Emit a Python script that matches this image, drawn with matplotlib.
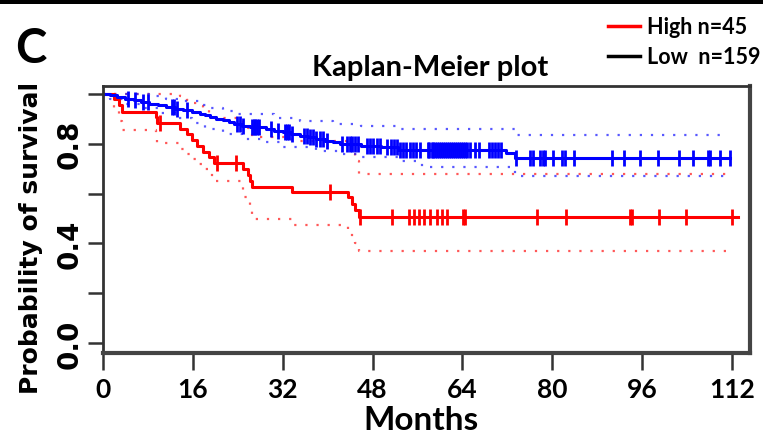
import numpy as np
import matplotlib
matplotlib.use("Agg")
import matplotlib.pyplot as plt
from matplotlib import font_manager

# Kaplan-Meier curves (months, survival probability)
red_t = [0, 2.0, 2.8, 3.4, 9.4, 9.7, 13.7, 14.9, 15.8, 16.7, 17.8, 18.8, 19.8,
         25.0, 25.8, 26.2, 26.5, 33.6, 43.7, 44.3, 44.9, 45.5]
red_s = [1.0, 0.978, 0.955, 0.928, 0.906, 0.884, 0.861, 0.838, 0.815, 0.792, 0.769, 0.746, 0.723,
         0.699, 0.676, 0.652, 0.627, 0.607, 0.585, 0.560, 0.533, 0.505]
red_end = 113.0
red_cens = [10.2, 20.3, 23.7, 40.4, 45.8, 51.4, 54.4, 55.3, 56.2, 57.1, 58.3, 59.5, 60.4,
            61.3, 64.1, 64.4, 77.3, 82.4, 93.9, 94.2, 99.0, 103.8, 112.0]
red_up_t = [0, 13.7, 14.9, 15.8, 16.7, 17.8, 18.8, 19.8, 25.0, 25.8, 26.2, 26.5, 33.6,
            43.7, 44.3, 44.9, 45.5]
red_up_s = [1.0, 0.99, 0.975, 0.965, 0.95, 0.935, 0.92, 0.905, 0.885, 0.865, 0.845, 0.826, 0.81,
            0.79, 0.76, 0.73, 0.679]
red_lo_t = [0, 2.0, 2.8, 3.4, 9.4, 9.7, 13.7, 14.9, 15.8, 16.7, 17.8, 18.8, 19.8,
            25.0, 25.8, 26.2, 26.5, 33.6, 43.7, 44.3, 44.9, 45.5]
red_lo_s = [1.0, 0.935, 0.89, 0.857, 0.83, 0.805, 0.78, 0.76, 0.74, 0.72, 0.70, 0.675, 0.65,
            0.585, 0.566, 0.531, 0.498, 0.475, 0.45, 0.424, 0.40, 0.371]

blue_t = [0, 1.2, 2.5, 4.0, 5.5, 6.8, 8.2, 9.8, 11.3, 12.8, 14.3, 15.8, 17.3, 18.2, 19.0,
          20.2, 21.4, 22.4, 23.3, 24.8, 26.2, 29.0, 30.5, 32.0, 33.5, 35.0, 36.5, 38.0,
          39.5, 41.0, 42.2, 46.0, 49.5, 52.5, 71.8, 73.3]
blue_s = [1.0, 0.994, 0.987, 0.981, 0.975, 0.968, 0.961, 0.955, 0.948, 0.941, 0.934, 0.928,
          0.921, 0.914, 0.908, 0.901, 0.894, 0.887, 0.880, 0.873, 0.866, 0.859, 0.852, 0.846,
          0.839, 0.833, 0.826, 0.819, 0.813, 0.806, 0.800, 0.793, 0.786, 0.777, 0.765, 0.743]
blue_end = 111.7
blue_cens = [4.5, 5.7, 7.1, 8.0, 12.2, 12.6, 13.1, 14.9, 23.8, 24.4, 25.0, 26.5, 26.8, 27.1,
             27.4, 27.7, 30.0, 31.2, 32.4, 32.8, 33.2, 33.6, 35.7, 36.3, 36.8, 37.4, 38.0,
             38.6, 39.2, 39.8, 42.5, 43.4, 43.9, 44.4, 44.9, 45.4, 47.0, 47.6, 48.1, 48.7,
             49.3, 50.5, 51.2, 51.8, 52.4, 52.9, 53.4, 54.0, 54.6, 55.2, 55.8, 56.4, 57.8,
             58.1, 58.5, 58.8, 59.2, 59.5, 59.9, 60.2, 60.6, 60.9, 61.3, 61.6, 62.0, 62.3,
             62.7, 63.0, 63.4, 63.7, 64.1, 64.4, 64.8, 65.4, 66.2, 67.0, 68.8, 69.3, 69.8,
             70.3, 70.8, 73.5, 76.0, 76.6, 77.8, 78.4, 78.7, 80.2, 81.7, 82.3, 83.8, 90.7,
             92.7, 95.7, 98.8, 102.6, 105.1, 107.7, 108.1, 109.8, 111.7]
blue_up_t = [0, 8.2, 11.3, 14.3, 17.3, 19.0, 21.4, 23.3, 30.5, 35.0, 41.0, 46.0, 52.5, 73.3]
blue_up_s = [1.0, 0.99, 0.98, 0.97, 0.955, 0.945, 0.933, 0.92, 0.905, 0.89, 0.88, 0.87, 0.86, 0.837]
blue_lo_t = [0, 1.2, 4.0, 6.8, 9.8, 12.8, 15.8, 18.2, 21.4, 24.8, 29.0, 32.0, 38.0, 42.2,
             46.0, 52.5, 56.8, 73.3]
blue_lo_s = [1.0, 0.98, 0.96, 0.945, 0.925, 0.905, 0.885, 0.859, 0.839, 0.82, 0.806, 0.786,
             0.772, 0.76, 0.746, 0.732, 0.706, 0.67]
ci_end = 111.0

x_ticks = [0, 16, 32, 48, 64, 80, 96, 112]
y_ticks = [0.0, 0.2, 0.4, 0.6, 0.8, 1.0]
y_labels = ["0.0", "", "0.4", "", "0.8", ""]

names = {f.name for f in font_manager.fontManager.ttflist}
narrow = "Lato" if "Lato" in names else "Liberation Sans"
wide = "DejaVu Sans"


def stepline(ax, t, s, end, **kw):
    ax.step(list(t) + [end], list(s) + [s[-1]], where="post", **kw)


def surv_at(t, s, x):
    i = np.searchsorted(t, x, side="right") - 1
    return np.asarray(s)[i]


fig = plt.figure(figsize=(7.63, 4.39), dpi=100)
W, H = 763, 439
ax = fig.add_axes([103 / W, (H - 354) / H, (750 - 103) / W, (354 - 87) / H])

# confidence bands (dotted)
dot = (0, (1, 4))
for t, s, c in [(red_up_t, red_up_s, "#ff2020"), (red_lo_t, red_lo_s, "#ff2020"),
                (blue_up_t, blue_up_s, "#2020ff"), (blue_lo_t, blue_lo_s, "#2020ff")]:
    stepline(ax, t, s, ci_end, color=c, lw=1.6, ls=dot, alpha=0.75)

stepline(ax, red_t, red_s, red_end, color="#ff0000", lw=2.2)
stepline(ax, blue_t, blue_s, blue_end, color="#0000ff", lw=2.2)

ax.plot(red_cens, surv_at(red_t, red_s, red_cens), ls="none", marker="|",
        ms=12, mew=2, color="#ff0000")
ax.plot(blue_cens, surv_at(blue_t, blue_s, blue_cens), ls="none", marker="|",
        ms=12, mew=2, color="#0000ff")

ax.set_xlim(0, 115.2)
ax.set_ylim(-0.04, 1.032)
ax.set_xticks(x_ticks)
ax.set_xticklabels([str(v) for v in x_ticks], fontfamily=narrow, fontweight="bold", fontsize=19)
ax.set_yticks(y_ticks)
ax.set_yticklabels(y_labels, fontfamily=wide, fontweight="bold", fontsize=20,
                   rotation=90, va="center")
ax.tick_params(axis="x", length=12, width=1.8, color="#333333", pad=5)
ax.tick_params(axis="y", length=11, width=1.8, color="#333333", pad=3)
for side in ["left", "top"]:
    ax.spines[side].set_linewidth(2)
    ax.spines[side].set_color("#333333")
for side in ["right", "bottom"]:
    ax.spines[side].set_linewidth(3)
    ax.spines[side].set_color("#444444")

fig.text(421 / W, 1 - 421 / H, "Months", ha="center", va="center",
         fontfamily=narrow, fontweight="bold", fontsize=24)
fig.text(31 / W, 1 - 238 / H, "Probability of survival", ha="center", va="center",
         rotation=90, fontfamily=wide, fontweight="bold", fontsize=18)
fig.text(430 / W, 1 - 68 / H, "Kaplan-Meier plot", ha="center", va="center",
         fontfamily=narrow, fontweight="bold", fontsize=21)
fig.text(31 / W, 1 - 49 / H, "C", ha="center", va="center",
         fontfamily=narrow, fontweight="bold", fontsize=34)

# legend drawn as figure lines + text
fig.add_artist(plt.Line2D([608 / W, 640 / W], [1 - 27 / H, 1 - 27 / H], color="#ff0000", lw=2.5))
fig.add_artist(plt.Line2D([608 / W, 640 / W], [1 - 57 / H, 1 - 57 / H], color="black", lw=2.5))
fig.text(647 / W, 1 - 27 / H, "High n=45", ha="left", va="center",
         fontfamily=narrow, fontweight="bold", fontsize=15.5)
fig.text(647 / W, 1 - 57 / H, "Low  n=159", ha="left", va="center",
         fontfamily=narrow, fontweight="bold", fontsize=15.5)

# black band along the top edge
fig.add_artist(plt.Rectangle((0, 1 - 5 / H), 1, 5 / H, transform=fig.transFigure,
                             color="black", lw=0))

fig.savefig("out.png", dpi=100)
